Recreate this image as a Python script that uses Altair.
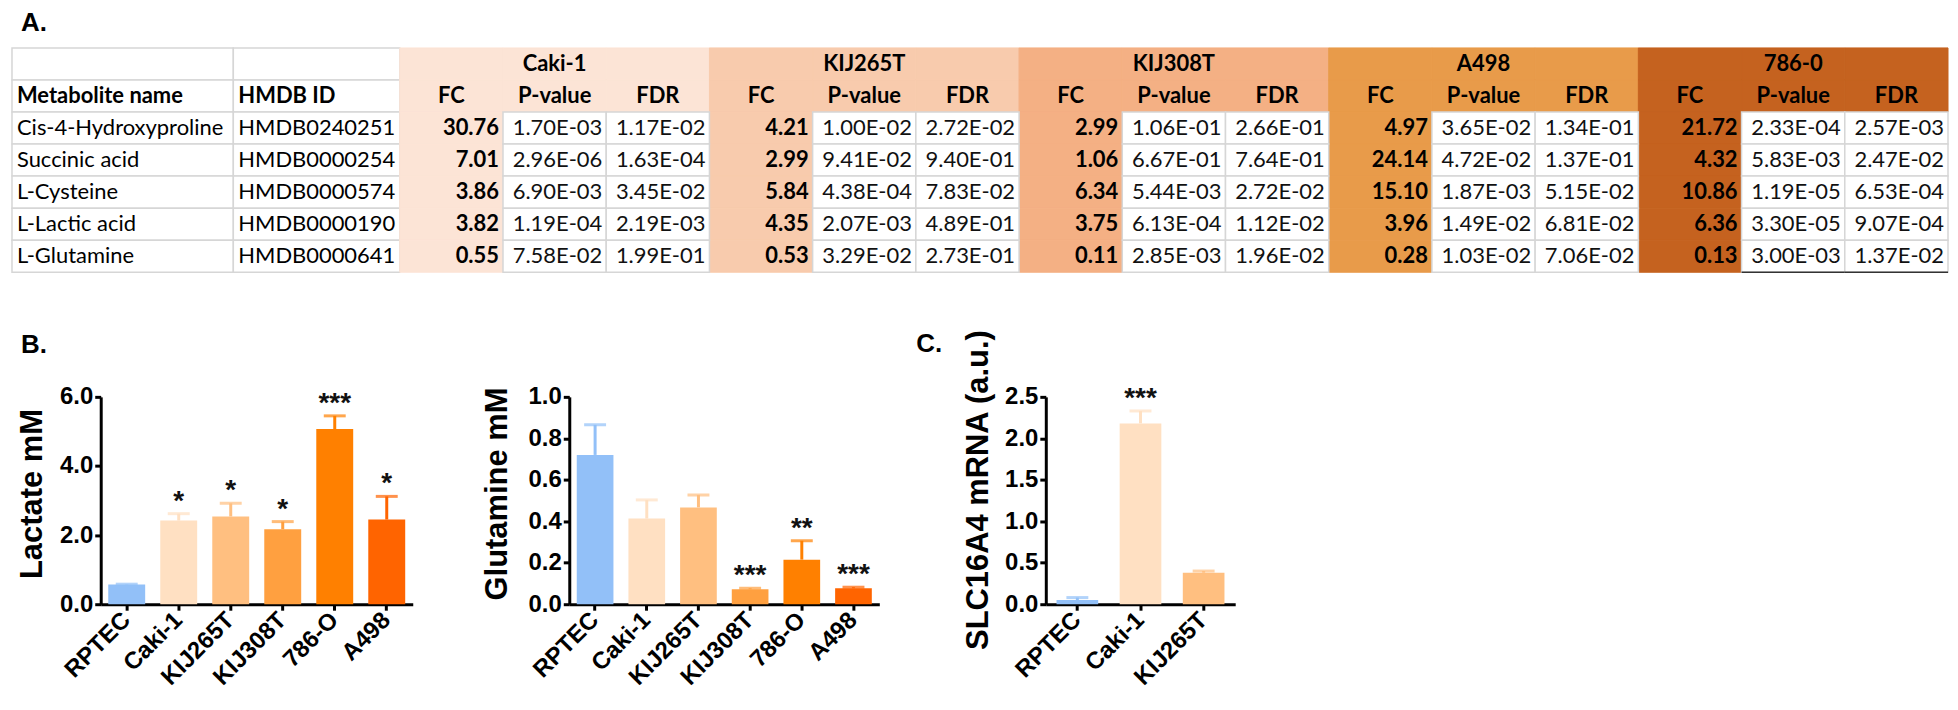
import altair as alt
import pandas as pd

# ---------------- Panel A: table data ----------------
metabolites = ["Cis-4-Hydroxyproline", "Succinic acid", "L-Cysteine", "L-Lactic acid", "L-Glutamine"]
hmdb_ids = ["HMDB0240251", "HMDB0000254", "HMDB0000574", "HMDB0000190", "HMDB0000641"]
table_lines = ["Caki-1", "KIJ265T", "KIJ308T", "A498", "786-0"]
stat_names = ["FC", "P-value", "FDR"]

caki1_fc = ["30.76", "7.01", "3.86", "3.82", "0.55"]
caki1_p = ["1.70E-03", "2.96E-06", "6.90E-03", "1.19E-04", "7.58E-02"]
caki1_fdr = ["1.17E-02", "1.63E-04", "3.45E-02", "2.19E-03", "1.99E-01"]
kij265t_fc = ["4.21", "2.99", "5.84", "4.35", "0.53"]
kij265t_p = ["1.00E-02", "9.41E-02", "4.38E-04", "2.07E-03", "3.29E-02"]
kij265t_fdr = ["2.72E-02", "9.40E-01", "7.83E-02", "4.89E-01", "2.73E-01"]
kij308t_fc = ["2.99", "1.06", "6.34", "3.75", "0.11"]
kij308t_p = ["1.06E-01", "6.67E-01", "5.44E-03", "6.13E-04", "2.85E-03"]
kij308t_fdr = ["2.66E-01", "7.64E-01", "2.72E-02", "1.12E-02", "1.96E-02"]
a498_fc = ["4.97", "24.14", "15.10", "3.96", "0.28"]
a498_p = ["3.65E-02", "4.72E-02", "1.87E-03", "1.49E-02", "1.03E-02"]
a498_fdr = ["1.34E-01", "1.37E-01", "5.15E-02", "6.81E-02", "7.06E-02"]
c7860_fc = ["21.72", "4.32", "10.86", "6.36", "0.13"]
c7860_p = ["2.33E-04", "5.83E-03", "1.19E-05", "3.30E-05", "3.00E-03"]
c7860_fdr = ["2.57E-03", "2.47E-02", "6.53E-04", "9.07E-04", "1.37E-02"]

table_values = {
    "Caki-1": [caki1_fc, caki1_p, caki1_fdr],
    "KIJ265T": [kij265t_fc, kij265t_p, kij265t_fdr],
    "KIJ308T": [kij308t_fc, kij308t_p, kij308t_fdr],
    "A498": [a498_fc, a498_p, a498_fdr],
    "786-0": [c7860_fc, c7860_p, c7860_fdr],
}

# ---------------- Panels B / C: bar data ----------------
panel_labels = ["A.", "B.", "C."]
bar_lines = ["RPTEC", "Caki-1", "KIJ265T", "KIJ308T", "786-O", "A498"]
lactate_mean = [0.57, 2.42, 2.54, 2.17, 5.07, 2.45]
lactate_sem = [0.01, 0.20, 0.38, 0.22, 0.38, 0.67]
lactate_sig = ["", "*", "*", "*", "***", "*"]

glutamine_mean = [0.72, 0.413, 0.467, 0.072, 0.215, 0.077]
glutamine_sem = [0.145, 0.09, 0.06, 0.005, 0.091, 0.005]
glutamine_sig = ["", "", "", "***", "**", "***"]

slc_lines = ["RPTEC", "Caki-1", "KIJ265T"]
slc_mean = [0.05, 2.18, 0.38]
slc_sem = [0.03, 0.15, 0.02]
slc_sig = ["", "***", ""]

# ---------------- styles ----------------
FONT = "Liberation Sans"
TFONT = "Lato"
TFS = 22
GRID = "#D6D6D6"
block_colors = ["#FCE4D6", "#F8CBAD", "#F4B084", "#E89B4A", "#C5621F"]
bar_colors = ["#92C0F8", "#FFE0C2", "#FFBF80", "#FFA040", "#FF8000", "#FF6400"]

ROWS = ["h1", "h2", "r0", "r1", "r2", "r3", "r4"]
TABLE_H = 225
BAR_H = 208


def yband():
    return alt.Y("row:N", scale=alt.Scale(domain=ROWS, paddingInner=0, paddingOuter=0), axis=None)


def text_column(values, header, width, key, title=None):
    df = pd.DataFrame({
        "row": ROWS,
        "c": key,
        "text": ["", header] + values,
        "kind": ["h1", "h2"] + ["d"] * len(values),
    })
    xs = alt.Scale(domain=[key], paddingInner=0, paddingOuter=0)
    base = alt.Chart(df).encode(x=alt.X("c:N", scale=xs, axis=None), y=yband())
    rect = base.mark_rect(fill="white", stroke=GRID, strokeWidth=1.5)
    xl = alt.X("c:N", scale=xs, axis=None, bandPosition=0)
    hdr = base.transform_filter(alt.datum.kind == "h2").mark_text(
        align="left", dx=5, font=TFONT, fontSize=TFS, fontWeight="bold", color="black"
    ).encode(x=xl, text="text:N")
    dat = base.transform_filter(alt.datum.kind == "d").mark_text(
        align="left", dx=5, font=TFONT, fontSize=TFS, color="black"
    ).encode(x=xl, text="text:N")
    props = dict(width=width, height=TABLE_H)
    if title is not None:
        props["title"] = title
    return alt.layer(rect, hdr, dat).properties(**props)


# numeric block
recs = []
cols = []
for line in table_lines:
    for j, stat in enumerate(stat_names):
        col = f"{line}|{stat}"
        cols.append(col)
        recs.append(dict(col=col, row="h1", block=line, text=line if stat == "P-value" else "", kind="h1"))
        recs.append(dict(col=col, row="h2", block=line, text=stat, kind="h2"))
        for k, v in enumerate(table_values[line][j]):
            recs.append(dict(col=col, row=f"r{k}", block=line if stat == "FC" else "white",
                             text=v, kind="fc" if stat == "FC" else "pv"))
num_df = pd.DataFrame(recs)
under_df = pd.DataFrame({"col": ["786-0|P-value", "786-0|FDR"], "row": ["r4", "r4"]})

xs_num = alt.Scale(domain=cols, paddingInner=0, paddingOuter=0)
nbase = alt.Chart(num_df).encode(x=alt.X("col:N", scale=xs_num, axis=None), y=yband())
blk_scale = alt.Scale(domain=table_lines, range=block_colors)
colored = nbase.transform_filter(alt.datum.block != "white").mark_rect(strokeWidth=1).encode(
    fill=alt.Fill("block:N", scale=blk_scale, legend=None),
    stroke=alt.Stroke("block:N", scale=blk_scale, legend=None),
)
white = nbase.transform_filter(alt.datum.block == "white").mark_rect(fill="white", stroke=GRID, strokeWidth=1.5)
h_text = nbase.transform_filter((alt.datum.kind == "h1") | (alt.datum.kind == "h2")).mark_text(
    font=TFONT, fontSize=TFS, fontWeight="bold", color="black"
).encode(text="text:N")
xr = alt.X("col:N", scale=xs_num, axis=None, bandPosition=1)
fc_text = nbase.transform_filter(alt.datum.kind == "fc").mark_text(
    align="right", dx=-4, font=TFONT, fontSize=TFS, fontWeight="bold", color="black"
).encode(x=xr, text="text:N")
pv_text = nbase.transform_filter(alt.datum.kind == "pv").mark_text(
    align="right", dx=-4, font=TFONT, fontSize=TFS, color="#111111"
).encode(x=xr, text="text:N")
underline = alt.Chart(under_df).mark_rule(color="#333333", strokeWidth=1.5).encode(
    x=alt.X("col:N", scale=xs_num, axis=None, bandPosition=0),
    x2=alt.X2("col:N", bandPosition=1),
    y=alt.Y("row:N", scale=alt.Scale(domain=ROWS, paddingInner=0, paddingOuter=0), axis=None, bandPosition=1),
)
num_chart = alt.layer(colored, white, h_text, fc_text, pv_text, underline).properties(width=1553, height=TABLE_H)

title_a = alt.TitleParams(panel_labels[0], anchor="start", frame="group", font=FONT, fontSize=26,
                          fontWeight="bold", color="black", dx=9, offset=-10, baseline="alphabetic")
name_chart = text_column(metabolites, "Metabolite name", 222, "name", title=title_a)
hmdb_chart = text_column(hmdb_ids, "HMDB ID", 167, "hmdb")

table_row = alt.hconcat(name_chart, hmdb_chart, num_chart, spacing=0, bounds="flush")


# ---------------- bar charts ----------------
def panel_label(text, dx, dy):
    return alt.Chart(pd.DataFrame({"t": [text]})).mark_text(
        font=FONT, fontSize=26, fontWeight="bold", color="black", align="left", baseline="alphabetic"
    ).encode(text="t:N", x=alt.value(dx), y=alt.value(dy))


def bar_chart(lines, means, sems, sigs, ymax, yvals, ytitle, width, pad_in, cap, title_x, title_y, label=None):
    df = pd.DataFrame({"line": lines, "mean": means,
                       "top": [m + s for m, s in zip(means, sems)], "sig": sigs})
    x = alt.X("line:N", sort=lines,
              scale=alt.Scale(domain=lines, paddingInner=pad_in, paddingOuter=pad_in / 2),
              axis=alt.Axis(title=None, labelAngle=-45, labelAlign="right", labelBaseline="middle",
                            labelPadding=6, labelOverlap=False))
    ysc = alt.Scale(domain=[0, ymax], nice=False, zero=True)
    yaxis = alt.Axis(values=yvals, format=".1f", title=ytitle, titleX=title_x, titleY=title_y,
                     titleAlign="center", titleBaseline="middle", titleAngle=270, labelPadding=2)
    color = alt.Color("line:N", scale=alt.Scale(domain=bar_lines, range=bar_colors), legend=None)
    base = alt.Chart(df)
    bars = base.mark_bar().encode(
        x=x, y=alt.Y("mean:Q", scale=ysc, axis=yaxis, title=ytitle), color=color)
    err = base.mark_rule(strokeWidth=3).encode(
        x=x, y=alt.Y("mean:Q", scale=ysc, axis=yaxis, title=ytitle), y2="top:Q", color=color)
    caps = base.mark_tick(thickness=3, size=cap).encode(
        x=x, y=alt.Y("top:Q", scale=ysc, axis=yaxis, title=ytitle), color=color)
    stars = base.mark_text(font=FONT, fontSize=28, fontWeight="bold", baseline="alphabetic",
                           dy=-4, color="#111111").encode(
        x=x, y=alt.Y("top:Q", scale=ysc, axis=yaxis, title=ytitle), text="sig:N")
    layers = [bars, err, caps, stars]
    if label is not None:
        layers.append(label)
    return alt.layer(*layers).properties(width=width, height=BAR_H)


def spacer(w):
    return alt.Chart(pd.DataFrame({"v": [0]})).mark_point(opacity=0).encode(
        x=alt.value(0), y=alt.value(0)).properties(width=w, height=BAR_H)


lactate = bar_chart(bar_lines, lactate_mean, lactate_sem, lactate_sig, 6, [0, 2, 4, 6],
                    "Lactate mM", 313, 0.29, 22, -68, 97, label=panel_label(panel_labels[1], -80, -44))
glutamine = bar_chart(bar_lines, glutamine_mean, glutamine_sem, glutamine_sig, 1.0,
                      [0, 0.2, 0.4, 0.6, 0.8, 1.0], "Glutamine mM", 311, 0.29, 22, -72, 97)
slc = bar_chart(slc_lines, slc_mean, slc_sem, slc_sig, 2.5, [0, 0.5, 1.0, 1.5, 2.0, 2.5],
                "SLC16A4 mRNA (a.u.)", 190, 0.34, 22, -67, 93, label=panel_label(panel_labels[2], -130, -45))

bar_row = alt.hconcat(spacer(89), lactate, spacer(157), glutamine, spacer(167), slc,
                      spacing=0, bounds="flush")

chart = alt.vconcat(table_row, bar_row, spacing=54).properties(
    padding=0
).resolve_scale(color="independent", fill="independent", stroke="independent").configure_view(
    stroke="transparent"
).configure_axis(
    domainColor="black", domainWidth=3, tickColor="black", tickWidth=3, tickSize=6,
    labelFont=FONT, labelFontSize=24, labelFontWeight="bold", labelColor="black",
    titleFont=FONT, titleFontSize=31, titleFontWeight="bold", titleColor="black", grid=False
)

chart.save("out.html", embed_options={"renderer": "svg", "actions": False})
